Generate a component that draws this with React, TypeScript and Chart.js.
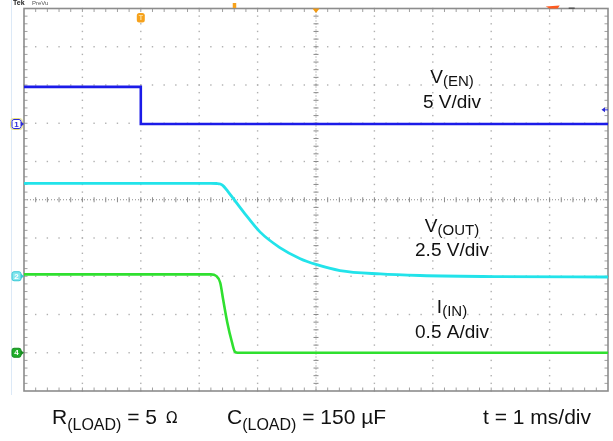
import { useEffect, useRef } from "react";
import { Chart, registerables } from "chart.js";

Chart.register(...registerables);

// ---- data (time in divisions of 1 ms, level in screen divisions) ----
const enTime = [0, 2.0, 2.0, 10];
const enLevel = [2.95, 2.95, 1.98, 1.98];

const outTime = [0, 3.2, 3.3, 3.36, 3.42, 3.5, 3.58, 3.78, 4.04, 4.38, 4.73, 5.0, 5.41, 6.1, 6.78, 8.15, 10];
const outLevel = [0.43, 0.43, 0.425, 0.41, 0.35, 0.2, 0.04, -0.36, -0.84, -1.25, -1.54, -1.69, -1.85, -1.94, -1.98, -2.01, -2.02];

const inTime = [0, 3.2, 3.29, 3.36, 3.41, 3.48, 3.56, 3.61, 3.66, 10];
const inLevel = [-1.95, -1.95, -1.99, -2.17, -2.61, -3.2, -3.72, -3.97, -4.0, -4.0];

const channelNames = ["1", "2", "4"];
const channelGround = [1.98, -2.0, -4.0];
const traceMain = ["V", "V", "I"];
const traceSub = ["(EN)", "(OUT)", "(IN)"];
const traceScale = ["5 V/div", "2.5 V/div", "0.5 A/div"];
const triggerTime = 2.0;
const triggerLevel = 2.35;

const FONT = '"Liberation Sans", Arial, sans-serif';

const toXY = (xs: number[], ys: number[]) => xs.map((x, i) => ({ x, y: ys[i] }));

function roundRect(ctx: CanvasRenderingContext2D, x: number, y: number, w: number, h: number, r: number) {
  ctx.beginPath();
  ctx.moveTo(x + r, y);
  ctx.lineTo(x + w - r, y);
  ctx.quadraticCurveTo(x + w, y, x + w, y + r);
  ctx.lineTo(x + w, y + h - r);
  ctx.quadraticCurveTo(x + w, y + h, x + w - r, y + h);
  ctx.lineTo(x + r, y + h);
  ctx.quadraticCurveTo(x, y + h, x, y + h - r);
  ctx.lineTo(x, y + r);
  ctx.quadraticCurveTo(x, y, x + r, y);
  ctx.closePath();
}

const graticule = {
  id: "graticule",
  beforeDatasetsDraw(chart: any) {
    const { ctx, chartArea: a, scales } = chart;
    const xs = scales.x;
    const ys = scales.y;
    ctx.save();
    ctx.strokeStyle = "#dce9f7";
    ctx.lineWidth = 1;
    ctx.beginPath();
    ctx.moveTo(11.5, 0);
    ctx.lineTo(11.5, a.bottom + 4);
    ctx.stroke();

    ctx.fillStyle = "#b0b0b0";
    for (let i = 1; i < 10; i++) {
      if (i === 5) continue;
      const px = xs.getPixelForValue(i);
      for (let k = -25; k <= 25; k++) {
        const py = ys.getPixelForValue(k * 0.2);
        ctx.fillRect(px - 0.7, py - 0.7, 1.4, 1.4);
      }
    }
    for (let j = -4; j <= 4; j++) {
      if (j === 0) continue;
      const py = ys.getPixelForValue(j);
      for (let k = 0; k <= 50; k++) {
        const px = xs.getPixelForValue(k * 0.2);
        ctx.fillRect(px - 0.7, py - 0.7, 1.4, 1.4);
      }
    }
    const cx = xs.getPixelForValue(5);
    const cy = ys.getPixelForValue(0);
    ctx.strokeStyle = "#8a8a8a";
    ctx.lineWidth = 1;
    ctx.setLineDash([1, 2]);
    ctx.beginPath();
    ctx.moveTo(a.left, cy);
    ctx.lineTo(a.right, cy);
    ctx.moveTo(cx, a.top);
    ctx.lineTo(cx, a.bottom);
    ctx.stroke();
    ctx.setLineDash([]);
    ctx.beginPath();
    for (let k = 1; k < 50; k++) {
      const px = xs.getPixelForValue(k * 0.2);
      ctx.moveTo(px, cy - 2.5);
      ctx.lineTo(px, cy + 2.5);
    }
    for (let k = -24; k < 25; k++) {
      const py = ys.getPixelForValue(k * 0.2);
      ctx.moveTo(cx - 2.5, py);
      ctx.lineTo(cx + 2.5, py);
    }
    ctx.stroke();

    ctx.strokeStyle = "#a0a0a0";
    ctx.beginPath();
    for (let k = 1; k < 50; k++) {
      const px = xs.getPixelForValue(k * 0.2);
      ctx.moveTo(px, a.top);
      ctx.lineTo(px, a.top + 3.5);
      ctx.moveTo(px, a.bottom);
      ctx.lineTo(px, a.bottom - 3.5);
    }
    for (let k = -24; k < 25; k++) {
      const py = ys.getPixelForValue(k * 0.2);
      ctx.moveTo(a.left, py);
      ctx.lineTo(a.left + 3.5, py);
      ctx.moveTo(a.right, py);
      ctx.lineTo(a.right - 3.5, py);
    }
    ctx.stroke();
    ctx.strokeStyle = "#8c8c8c";
    ctx.lineWidth = 1.6;
    ctx.strokeRect(a.left, a.top, a.right - a.left, a.bottom - a.top);
    ctx.restore();
  },
  afterDraw(chart: any) {
    const { ctx, chartArea: a, scales } = chart;
    const xs = scales.x;
    const ys = scales.y;
    ctx.save();

    const badgeFill = ["#ffffff", "#86e6ee", "#1fae2a"];
    const badgeStroke = ["#2b2bd8", "#37c9d6", "#178a20"];
    const badgeText = ["#2b2bd8", "#ffffff", "#ffffff"];
    channelNames.forEach((name, i) => {
      const py = ys.getPixelForValue(channelGround[i]);
      if (i === 0) {
        ctx.strokeStyle = "#e8e07a";
        ctx.lineWidth = 1;
        roundRect(ctx, 10.5, py - 5.5, 12, 11, 3);
        ctx.stroke();
      }
      roundRect(ctx, 12, py - 4.5, 9, 9, 2);
      ctx.fillStyle = badgeFill[i];
      ctx.fill();
      ctx.strokeStyle = badgeStroke[i];
      ctx.lineWidth = 1;
      ctx.stroke();
      ctx.beginPath();
      ctx.moveTo(21, py - 2.5);
      ctx.lineTo(24, py);
      ctx.lineTo(21, py + 2.5);
      ctx.closePath();
      ctx.fillStyle = badgeStroke[i];
      ctx.fill();
      ctx.fillStyle = badgeText[i];
      ctx.font = `bold 8px ${FONT}`;
      ctx.textAlign = "center";
      ctx.textBaseline = "middle";
      ctx.fillText(name, 16.5, py + 0.5);
    });

    const tx = xs.getPixelForValue(triggerTime);
    roundRect(ctx, tx - 4, a.top + 4.5, 8, 9.5, 2.5);
    ctx.fillStyle = "#f6a21c";
    ctx.fill();
    ctx.fillStyle = "#fde3a8";
    ctx.font = `bold 7px ${FONT}`;
    ctx.textAlign = "center";
    ctx.textBaseline = "middle";
    ctx.fillText("T", tx, a.top + 9.5);

    const ox = xs.getPixelForValue(3.6);
    ctx.fillStyle = "#f6a21c";
    ctx.fillRect(ox - 1.5, 3, 3.5, 5);
    const cx = xs.getPixelForValue(5);
    ctx.beginPath();
    ctx.moveTo(cx - 3.5, a.top);
    ctx.lineTo(cx + 3.5, a.top);
    ctx.lineTo(cx, a.top + 4.5);
    ctx.closePath();
    ctx.fillStyle = "#f29a12";
    ctx.fill();
    const rx = xs.getPixelForValue(9.07);
    ctx.beginPath();
    ctx.moveTo(rx - 8, 6.5);
    ctx.lineTo(rx + 6, 5.5);
    ctx.lineTo(rx + 4, 8.5);
    ctx.lineTo(rx - 4, 8.5);
    ctx.closePath();
    ctx.fillStyle = "#ff5a1f";
    ctx.fill();
    ctx.fillStyle = "#555";
    ctx.fillRect(rx + 15, 7.5, 6, 1.5);

    const ty = ys.getPixelForValue(triggerLevel);
    ctx.beginPath();
    ctx.moveTo(a.right - 6.5, ty);
    ctx.lineTo(a.right - 3, ty - 2.5);
    ctx.lineTo(a.right - 3, ty + 2.5);
    ctx.closePath();
    ctx.fillStyle = "#2b2bd8";
    ctx.fill();
    ctx.fillRect(a.right - 3, ty - 0.5, 3, 1);

    ctx.textAlign = "left";
    ctx.textBaseline = "alphabetic";
    ctx.fillStyle = "#222";
    ctx.font = `bold 7px ${FONT}`;
    ctx.fillText("Tek", 13, 5);
    ctx.fillStyle = "#555";
    ctx.font = `6px ${FONT}`;
    ctx.fillText("PreVu", 32, 5);

    const labelCenter = 452;
    const mainBase = [83, 231.5, 313];
    const scaleBase = [107.5, 256, 338];
    traceMain.forEach((m, i) => {
      ctx.fillStyle = "#111";
      ctx.font = `19px ${FONT}`;
      const wm = ctx.measureText(m).width;
      ctx.font = `15px ${FONT}`;
      const ws = ctx.measureText(traceSub[i]).width;
      const left = labelCenter - (wm + ws) / 2;
      ctx.font = `19px ${FONT}`;
      ctx.textAlign = "left";
      ctx.fillText(m, left, mainBase[i]);
      ctx.font = `15px ${FONT}`;
      ctx.fillText(traceSub[i], left + wm, mainBase[i] + 3);
      ctx.font = `19px ${FONT}`;
      ctx.textAlign = "center";
      ctx.fillText(traceScale[i], labelCenter, scaleBase[i]);
    });

    const base = 424;
    ctx.textAlign = "left";
    ctx.fillStyle = "#111";
    let x = 52;
    ctx.font = `21px ${FONT}`;
    ctx.fillText("R", x, base);
    x += ctx.measureText("R").width;
    ctx.font = `16px ${FONT}`;
    ctx.fillText("(LOAD)", x, base + 6);
    x += ctx.measureText("(LOAD)").width;
    ctx.font = `21px ${FONT}`;
    ctx.fillText(" = 5", x, base);
    x += ctx.measureText(" = 5").width + 9;
    ctx.font = `15px "DejaVu Sans", ${FONT}`;
    ctx.fillText("\u03A9", x, base - 1);

    x = 227;
    ctx.font = `21px ${FONT}`;
    ctx.fillText("C", x, base);
    x += ctx.measureText("C").width;
    ctx.font = `16px ${FONT}`;
    ctx.fillText("(LOAD)", x, base + 6);
    x += ctx.measureText("(LOAD)").width;
    ctx.font = `21px ${FONT}`;
    ctx.fillText(" = 150 \u00B5F", x, base);

    ctx.textAlign = "right";
    ctx.fillText("t = 1 ms/div", 591, base);
    ctx.restore();
  },
};

export default function App() {
  const ref = useRef<HTMLCanvasElement | null>(null);
  useEffect(() => {
    document.body.style.margin = "0";
    document.body.style.overflow = "hidden";
    const canvas = ref.current;
    if (!canvas) return;
    const chart = new Chart(canvas, {
      type: "line",
      data: {
        datasets: [
          {
            data: toXY(enTime, enLevel),
            borderColor: "#1b1be8",
            borderWidth: 2.6,
            pointRadius: 0,
            tension: 0,
          },
          {
            data: toXY(outTime, outLevel),
            borderColor: "#22e3ea",
            borderWidth: 2.8,
            pointRadius: 0,
            cubicInterpolationMode: "monotone",
          },
          {
            data: toXY(inTime, inLevel),
            borderColor: "#2fe02f",
            borderWidth: 2.6,
            pointRadius: 0,
            cubicInterpolationMode: "monotone",
          },
        ],
      },
      options: {
        animation: false,
        responsive: false,
        devicePixelRatio: 1,
        layout: { padding: { left: 24, right: 5, top: 8.5, bottom: 50 } },
        plugins: { legend: { display: false }, tooltip: { enabled: false } },
        scales: {
          x: { type: "linear", min: 0, max: 10, display: false },
          y: { type: "linear", min: -5, max: 5, display: false },
        },
      },
      plugins: [graticule],
    } as any);
    return () => chart.destroy();
  }, []);
  return <canvas ref={ref} width={613} height={441} style={{ display: "block" }} />;
}
